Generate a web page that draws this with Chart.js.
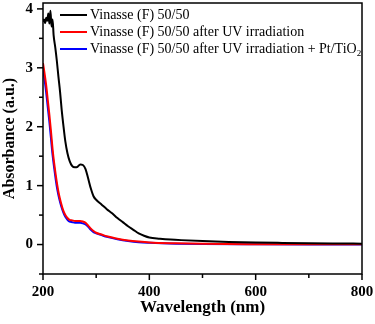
<!DOCTYPE html>
<html>
<head>
<meta charset="utf-8">
<script src="https://cdn.jsdelivr.net/npm/chart.js@4"></script>
<style>
  html,body{margin:0;padding:0;background:#fff;}
  #c{display:block;}
</style>
</head>
<body>
<canvas id="c" width="375" height="324"></canvas>
<script>
// data
const labels=['Vinasse (F) 50/50','Vinasse (F) 50/50 after UV irradiation','Vinasse (F) 50/50 after UV irradiation + Pt/TiO'];
const colors=['#000000','#ff0000','#0000ff'];

const wlBlack=[200,202,204,206,208,210,212,214,216,218,220,223,226,229,232,235,238,242,246,250,255,260,265,270,275,280,285,290,295,300,310,320,330,340,350,360,370,380,390,400,420,440,460,500,550,600,650,700,750,800];
const absBlack=[3.78,3.82,3.76,3.85,3.8,3.92,3.75,3.97,3.7,3.82,3.55,3.35,3.12,2.85,2.6,2.3,2.05,1.75,1.55,1.42,1.33,1.31,1.32,1.36,1.35,1.28,1.12,0.95,0.82,0.76,0.68,0.6,0.53,0.45,0.38,0.31,0.25,0.19,0.15,0.12,0.1,0.085,0.075,0.06,0.045,0.035,0.028,0.022,0.018,0.015];

const wlUV=[200,203,206,209,212,215,218,221,224,227,230,234,238,242,246,250,255,260,265,270,275,280,285,290,295,300,310,320,340,360,380,400,450,500,600,700,800];
const absRed=[3.08,2.9,2.7,2.45,2.2,1.92,1.62,1.38,1.18,1.0,0.85,0.7,0.58,0.5,0.45,0.42,0.41,0.4,0.4,0.4,0.39,0.37,0.32,0.27,0.23,0.2,0.17,0.14,0.1,0.07,0.05,0.035,0.02,0.012,0.006,0.004,0.003];
const absBlue=[3.0,2.8,2.58,2.33,2.08,1.8,1.52,1.3,1.1,0.93,0.8,0.66,0.55,0.47,0.42,0.39,0.38,0.37,0.37,0.37,0.36,0.34,0.3,0.25,0.21,0.19,0.16,0.13,0.09,0.06,0.04,0.03,0.015,0.008,0.004,0.002,0.001];

const xTicks=[200,300,400,500,600,700,800];
const yTicks=[-0.5,0,0.5,1,1.5,2,2.5,3,3.5,4];

const serif='"Liberation Serif","Times New Roman",serif';

function pts(xs,ys){ return xs.map((x,i)=>({x:x,y:ys[i]})); }

// frame, ticks and legend drawn on top
const framePlugin={
  id:'frame',
  afterDraw(chart){
    const c=chart.ctx, a=chart.chartArea;
    const sx=chart.scales.x, sy=chart.scales.y;
    c.save();
    c.strokeStyle='#000'; c.lineWidth=1.5;
    c.strokeRect(a.left,a.top,a.right-a.left,a.bottom-a.top);
    xTicks.forEach(v=>{
      const px=sx.getPixelForValue(v), len=(v%200===0)?6:4;
      c.beginPath(); c.moveTo(px,a.bottom); c.lineTo(px,a.bottom+len); c.stroke();
    });
    yTicks.forEach(v=>{
      const py=sy.getPixelForValue(v), len=Number.isInteger(v)?6:4;
      c.beginPath(); c.moveTo(a.left,py); c.lineTo(a.left-len,py); c.stroke();
    });
    // legend
    const rows=[15,32,49];
    c.font='14px '+serif; c.textBaseline='middle'; c.fillStyle='#000';
    chart.data.datasets.forEach((ds,i)=>{
      c.strokeStyle=ds.borderColor; c.lineWidth=2;
      c.beginPath(); c.moveTo(60,rows[i]); c.lineTo(87,rows[i]); c.stroke();
      c.fillText(ds.label,90,rows[i]);
      if(i===2){
        const w=c.measureText(ds.label).width;
        c.font='9px '+serif;
        c.fillText('2',90+w,rows[i]+5);
        c.font='14px '+serif;
      }
    });
    c.restore();
  }
};

new Chart(document.getElementById('c'),{
  type:'line',
  data:{datasets:[
    {label:labels[0],data:pts(wlBlack,absBlack),borderColor:colors[0]},
    {label:labels[1],data:pts(wlUV,absRed),borderColor:colors[1]},
    {label:labels[2],data:pts(wlUV,absBlue),borderColor:colors[2]}
  ]},
  options:{
    responsive:false,animation:false,
    layout:{padding:{top:3,right:13,left:0,bottom:0}},
    elements:{point:{radius:0},line:{borderWidth:2,cubicInterpolationMode:'monotone'}},
    plugins:{legend:{display:false},tooltip:{enabled:false}},
    scales:{
      x:{
        type:'linear',min:200,max:800,
        afterBuildTicks:s=>{s.ticks=xTicks.map(v=>({value:v}));},
        afterFit:s=>{s.height=50;s.paddingLeft=0;s.paddingRight=0;},
        grid:{display:false,drawTicks:false},border:{display:false},
        ticks:{color:'#000',padding:9,font:{family:serif,size:15,weight:'bold'},maxRotation:0,
          callback:v=>(v%200===0)?v:''},
        title:{display:true,text:'Wavelength (nm)',color:'#000',padding:{top:0,bottom:6},
          font:{family:serif,size:17,weight:'bold'}}
      },
      y:{
        min:-0.5,max:4.1,
        afterBuildTicks:s=>{s.ticks=yTicks.map(v=>({value:v}));},
        afterFit:s=>{s.width=43;s.paddingTop=0;s.paddingBottom=0;},
        grid:{display:false,drawTicks:false},border:{display:false},
        ticks:{color:'#000',padding:10,font:{family:serif,size:15,weight:'bold'},
          callback:v=>(Number.isInteger(v)&&v>=0)?v:''},
        title:{display:true,text:'Absorbance (a.u.)',color:'#000',padding:{top:0,bottom:0},
          font:{family:serif,size:16,weight:'bold'}}
      }
    }
  },
  plugins:[framePlugin]
});
</script>
</body>
</html>
